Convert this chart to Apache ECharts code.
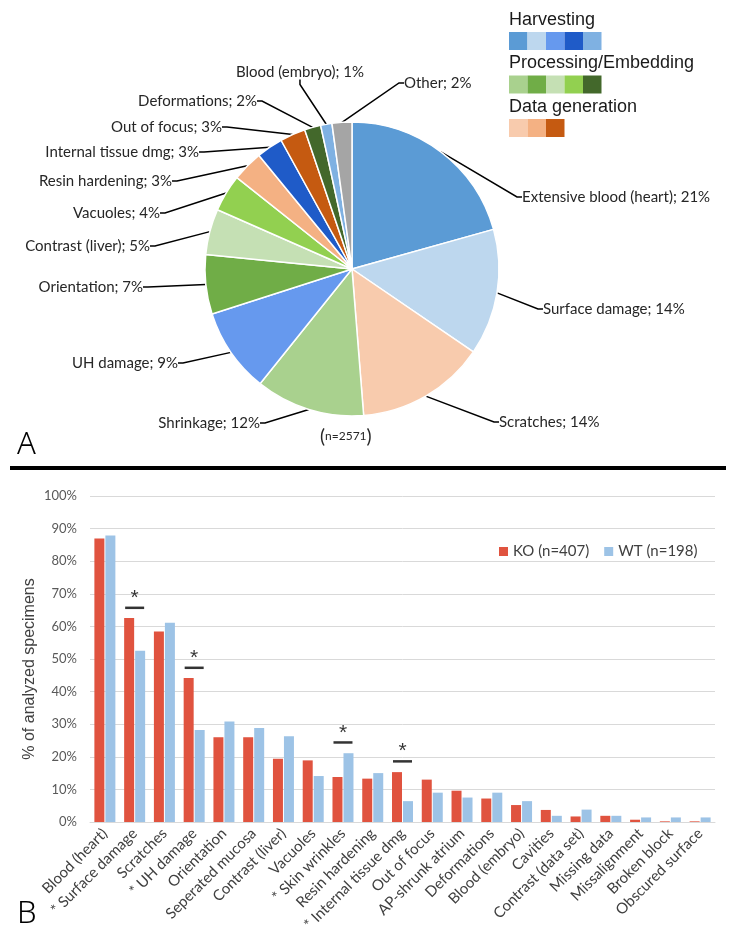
<!DOCTYPE html>
<html>
<head>
<meta charset="utf-8">
<script src="https://cdn.jsdelivr.net/npm/echarts@6/dist/echarts.min.js"></script>
<style>
  html, body { margin: 0; padding: 0; background: #fff; }
  #chart { width: 734px; height: 942px; }
</style>
</head>
<body>
<div id="chart"></div>
<script>
// Panel A - defect share (n=2571)
const pieNames = ['Extensive blood (heart)', 'Surface damage', 'Scratches', 'Shrinkage', 'UH damage',
    'Orientation', 'Contrast (liver)', 'Vacuoles', 'Resin hardening', 'Internal tissue dmg',
    'Out of focus', 'Deformations', 'Blood (embryo)', 'Other'];
const pieCounts = [531, 357, 365, 309, 239, 168, 129, 105, 87, 75, 72, 46, 32, 56];
const pieTotal = 2571;

// Panel B - % of analyzed specimens
const barCategories = ['Blood (heart)', '* Surface damage', 'Scratches', '* UH damage', 'Orientation',
    'Seperated mucosa', 'Contrast (liver)', 'Vacuoles', '* Skin wrinkles', 'Resin hardening',
    '* Internal tissue dmg', 'Out of focus', 'AP-shrunk atrium', 'Deformations', 'Blood (embryo)',
    'Cavities', 'Contrast (data set)', 'Missing data', 'Missalignment', 'Broken block', 'Obscured surface'];
const koValues = [87.0, 62.6, 58.4, 44.2, 26.0, 26.0, 19.4, 18.9, 13.8, 13.3, 15.3, 13.0, 9.6, 7.2, 5.2, 3.7, 1.7, 1.9, 0.7, 0.2, 0.2];
const wtValues = [87.9, 52.5, 61.1, 28.2, 30.8, 28.8, 26.3, 14.1, 21.1, 15.0, 6.4, 9.0, 7.5, 9.0, 6.4, 1.9, 3.8, 1.9, 1.4, 1.4, 1.4];
const sigCategories = ['* Surface damage', '* UH damage', '* Skin wrinkles', '* Internal tissue dmg'];
const sigLevels = [65.7, 47.3, 24.4, 18.6];

// styles
const pieColors = ['#5B9BD5', '#BDD7EE', '#F8CBAD', '#A9D18E', '#6699EE', '#70AD47', '#C5E0B4',
    '#92D050', '#F4B183', '#1F5BC8', '#C55A11', '#43682B', '#7FB1E2', '#A5A5A5'];
const labelSpots = [
    [522, 197, 'left'], [543, 309, 'left'], [499, 422, 'left'], [260, 423, 'right'],
    [178, 363, 'right'], [143, 287, 'right'], [150, 246, 'right'], [160, 213, 'right'],
    [172, 181, 'right'], [199, 152, 'right'], [222, 127, 'right'], [257, 101, 'right'],
    [364, 72, 'right'], [404, 83, 'left']
];
const groupNames = ['Harvesting', 'Processing/Embedding', 'Data generation'];
const groupColors = [
    ['#5B9BD5', '#BDD7EE', '#6699EE', '#1F5BC8', '#7FB1E2'],
    ['#A9D18E', '#70AD47', '#C5E0B4', '#92D050', '#43682B'],
    ['#F8CBAD', '#F4B183', '#C55A11']
];
const labelFont = 'Lato, "Open Sans", sans-serif';

const chart = echarts.init(document.getElementById('chart'));

const graphics = [];
// group legend for the pie
groupNames.forEach((g, i) => {
    const top = 11 + i * 43.5;
    graphics.push({
        type: 'text', left: 509, top: top,
        style: { text: g, font: '18px "Liberation Sans", Arial, sans-serif', fill: '#1a1a1a' }
    });
    groupColors[i].forEach((c, j) => {
        graphics.push({
            type: 'rect', shape: { x: 509 + j * 18.5, y: top + 21, width: 18.5, height: 18 },
            style: { fill: c }
        });
    });
});
graphics.push(
    { type: 'text', left: 320, top: 427,
      style: { text: '{p|(}{t|n=2571}{p|)}', rich: {
          p: { fontSize: 19, fontFamily: labelFont, fill: '#262626' },
          t: { fontSize: 12, fontFamily: labelFont, fill: '#262626' } } } },
    { type: 'text', left: 17, top: 430, style: { text: 'A', font: '300 31px "Noto Sans", sans-serif', fill: '#000' } },
    { type: 'text', left: 17, top: 899, style: { text: 'B', font: '300 31px "Noto Sans", sans-serif', fill: '#000' } },
    { type: 'rect', shape: { x: 10, y: 466, width: 716, height: 4 }, style: { fill: '#000' } },
    { type: 'text', x: 30, y: 669, rotation: Math.PI / 2,
      style: { text: '% of analyzed specimens', font: '16px "Liberation Sans", Arial, sans-serif',
               fill: '#404040', align: 'center', verticalAlign: 'middle' } }
);

const option = {
    backgroundColor: '#fff',
    animation: false,
    graphic: graphics,
    legend: {
        data: ['KO (n=407)', 'WT (n=198)'],
        left: 494, top: 539,
        icon: 'rect', itemWidth: 9, itemHeight: 9, itemGap: 15,
        textStyle: { fontSize: 15, fontFamily: labelFont, color: '#404040' }
    },
    grid: { left: 90, right: 19, top: 496, bottom: 120 },
    xAxis: {
        type: 'category',
        data: barCategories,
        axisTick: { show: false },
        axisLine: { lineStyle: { color: '#D9D9D9' } },
        axisLabel: { interval: 0, rotate: 45, fontSize: 15, fontFamily: labelFont, color: '#404040', margin: 9 }
    },
    yAxis: {
        type: 'value', min: 0, max: 100, interval: 10,
        axisLabel: { formatter: '{value}%', fontSize: 13, fontFamily: labelFont, color: '#595959', margin: 13 },
        splitLine: { lineStyle: { color: '#D9D9D9' } },
        axisLine: { show: false }, axisTick: { show: false }
    },
    series: [
        {
            type: 'pie',
            center: [352, 269], radius: 147,
            startAngle: 90, clockwise: true,
            avoidLabelOverlap: false,
            itemStyle: { borderColor: '#fff', borderWidth: 1.5 },
            label: {
                formatter: p => p.name + '; ' + Math.round(p.value / pieTotal * 100) + '%',
                fontSize: 15, fontFamily: labelFont, color: '#262626'
            },
            labelLine: { show: true, length: 20, length2: 5, lineStyle: { color: '#000', width: 1.5 } },
            labelLayout: p => {
                const s = labelSpots[p.dataIndex];
                return { x: s[0], y: s[1], align: s[2], verticalAlign: 'middle' };
            },
            data: pieNames.map((n, i) => ({ name: n, value: pieCounts[i], itemStyle: { color: pieColors[i] } }))
        },
        {
            name: 'KO (n=407)', type: 'bar', data: koValues,
            barWidth: 10, barGap: '10%', itemStyle: { color: '#E0533F' }
        },
        {
            name: 'WT (n=198)', type: 'bar', data: wtValues,
            barWidth: 10, itemStyle: { color: '#9DC3E6' }
        },
        {
            type: 'scatter', symbol: 'rect', symbolSize: [19, 2.5],
            itemStyle: { color: '#000' },
            label: { show: true, formatter: '*', position: 'top', distance: -2,
                     fontSize: 21, fontFamily: '"Liberation Sans", Arial, sans-serif', color: '#000' },
            data: sigCategories.map((c, i) => [c, sigLevels[i]]),
            z: 5
        }
    ]
};

chart.setOption(option);
</script>
</body>
</html>
